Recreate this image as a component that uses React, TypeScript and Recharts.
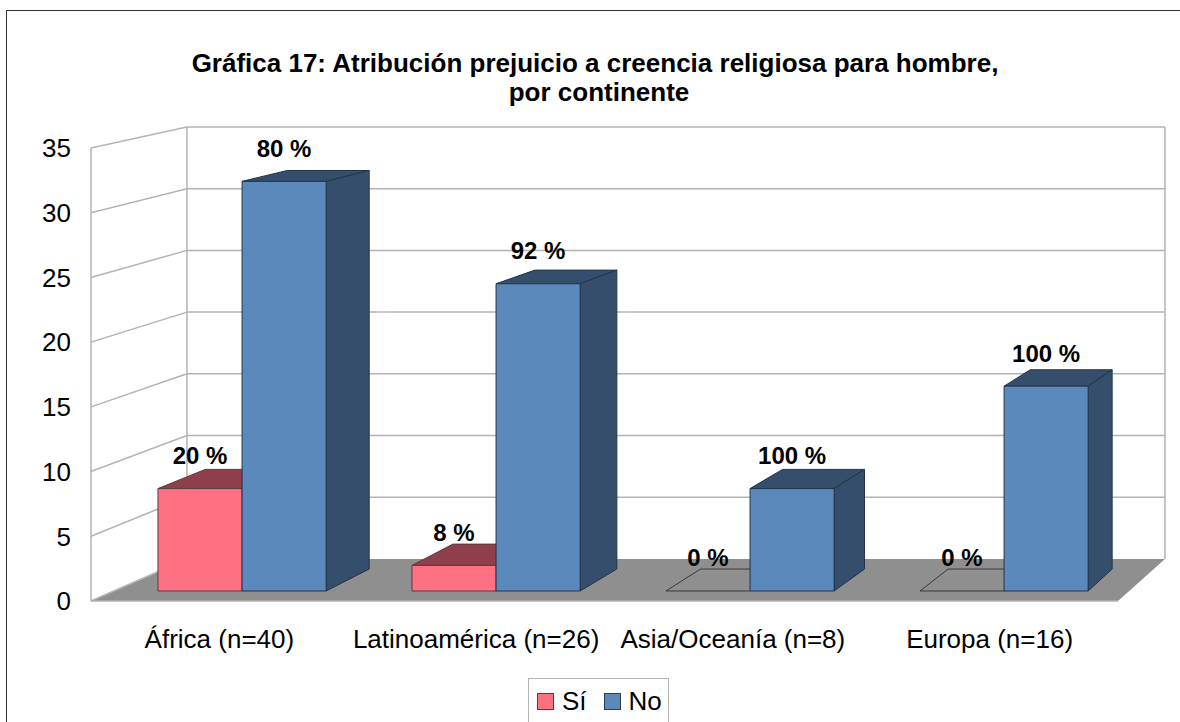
import { BarChart, Bar, XAxis, YAxis, CartesianGrid, Legend, LabelList } from 'recharts';

const categories = ['África (n=40)', 'Latinoamérica (n=26)', 'Asia/Oceanía (n=8)', 'Europa (n=16)'];
const siValues = [8, 2, 0, 0];
const noValues = [32, 24, 8, 16];
const siLabels = ['20 %', '8 %', '0 %', '0 %'];
const noLabels = ['80 %', '92 %', '100 %', '100 %'];
const yTicks = [0, 5, 10, 15, 20, 25, 30, 35];

const chartData = categories.map((name, i) => ({
    name,
    si: siValues[i],
    no: noValues[i],
    siLabel: siLabels[i],
    noLabel: noLabels[i],
}));

const FONT = '"Liberation Sans", Arial, sans-serif';
const WALL = '#b3b3b3';
const FLOOR = '#8f8f8f';

// the 3D look: the axis scale is the front edge of the box, the bars stand a bit further in
const toBarPlane = (x: number, y: number) => [0.9893 * x + 25.4, 0.989 * y - 3.4];
const toBarBack = (x: number, y: number) => [0.975 * x + 51.2, 0.973 * y - 6];
const toWall = (x: number, y: number) => [0.9523 * x + 100.3, 0.9537 * y - 14.2];

const pts = (list: number[][]) => list.map((p) => p.join(',')).join(' ');

function WallLine(props: any) {
    const { x1, x2, y1 } = props;
    const front = [x1, y1];
    const backLeft = toWall(x1, y1);
    const backRight = toWall(x2, y1);
    const isFloor = Math.abs(y1 - 601) < 1;
    return (
        <g key={props.key ?? y1}>
            {isFloor && (
                <polygon
                    points={pts([front, [x2, y1], backRight, backLeft])}
                    fill={FLOOR}
                />
            )}
            {isFloor && <line x1={x1} x2={x2} y1={y1} y2={y1} stroke={WALL} strokeWidth={1.5} />}
            {isFloor && <line x1={x1} x2={x1} y1={y1} y2={148} stroke={WALL} strokeWidth={1.5} />}
            {isFloor && <line x1={backLeft[0]} x2={backLeft[0]} y1={backLeft[1]} y2={127} stroke={WALL} strokeWidth={1.5} />}
            {isFloor && <line x1={backRight[0]} x2={backRight[0]} y1={backRight[1]} y2={127} stroke={WALL} strokeWidth={1.5} />}
            <line x1={x1} y1={y1} x2={backLeft[0]} y2={backLeft[1]} stroke={WALL} strokeWidth={1.5} />
            {!isFloor && <line x1={backLeft[0]} y1={backLeft[1]} x2={backRight[0]} y2={backRight[1]} stroke={WALL} strokeWidth={1.5} />}
        </g>
    );
}

function Box3D(props: any) {
    const { x, y, width, height, fill, dark, edge } = props;
    const fl = toBarPlane(x, y + height);
    const fr = toBarPlane(x + width, y + height);
    const tl = toBarPlane(x, y);
    const tr = toBarPlane(x + width, y);
    const bfr = toBarBack(fr[0], fr[1]);
    const btl = toBarBack(tl[0], tl[1]);
    const btr = toBarBack(tr[0], tr[1]);
    if (height < 0.5) {
        // a zero value only leaves its outline on the floor
        return <polygon points={pts([fl, fr, btr, btl])} fill="none" stroke="#3a3a3a" strokeWidth={1} />;
    }
    return (
        <g stroke={edge} strokeWidth={1} strokeLinejoin="round">
            <polygon points={pts([tl, tr, btr, btl])} fill={dark} />
            <polygon points={pts([fr, bfr, btr, tr])} fill={dark} />
            <polygon points={pts([tl, tr, fr, fl])} fill={fill} />
        </g>
    );
}

function BarLabel(props: any) {
    const { x, y, width, value } = props;
    const p = toBarPlane(x + width / 2, y);
    return (
        <text
            x={p[0]}
            y={p[1] - 33}
            textAnchor="middle"
            dominantBaseline="central"
            fontFamily={FONT}
            fontWeight="bold"
            fontSize={24}
            fill="#000"
        >
            {value}
        </text>
    );
}

function LegendBox(props: any) {
    return (
        <div
            style={{
                boxSizing: 'border-box',
                width: 141,
                height: 60,
                background: '#fff',
                border: '1.5px solid ' + WALL,
                display: 'flex',
                paddingLeft: 8,
                paddingTop: 14,
                fontFamily: FONT,
                fontSize: 26,
                color: '#000',
            }}
        >
            {props.payload.map((item: any, i: number) => (
                <div key={item.value} style={{ display: 'flex', alignItems: 'flex-start', marginRight: i === 0 ? 17 : 0 }}>
                    <span
                        style={{
                            boxSizing: 'border-box',
                            display: 'inline-block',
                            width: 17,
                            height: 17,
                            background: item.color,
                            border: '1px solid ' + (i === 0 ? '#5c3a40' : '#2a3d52'),
                            marginRight: 8,
                        }}
                    />
                    <span style={{ lineHeight: '17px' }}>{item.value}</span>
                </div>
            ))}
        </div>
    );
}

const titleStyle: any = {
    position: 'absolute',
    left: 0,
    width: 1190,
    textAlign: 'center',
    fontFamily: FONT,
    fontWeight: 'bold',
    fontSize: 26,
    lineHeight: '29px',
    color: '#000',
};

export default function App() {
    return (
        <div style={{ position: 'absolute', left: 0, top: 0, width: 1180, height: 722, overflow: 'hidden', background: '#fff' }}>
            <div style={{ position: 'absolute', left: 6, top: 10, width: 1180, height: 720, borderLeft: '1.5px solid #333', borderTop: '1.5px solid #333' }} />
            <div style={{ ...titleStyle, top: 49 }}>
                Gráfica 17: Atribución prejuicio a creencia religiosa para hombre,
                <br />
                <span style={{ position: 'relative', left: 4 }}>por continente</span>
            </div>
            <BarChart
                width={1180}
                height={722}
                data={chartData}
                barSize={85}
                barGap={0}
                margin={{ top: 148, right: 62, bottom: 61, left: 0 }}
                style={{ position: 'absolute', left: 0, top: 0 }}
            >
                <CartesianGrid vertical={false} horizontal={(p: any) => <WallLine {...p} />} />
                <XAxis
                    dataKey="name"
                    height={60}
                    interval={0}
                    axisLine={false}
                    tickLine={false}
                    tickMargin={23}
                    tick={{ fill: '#000', fontSize: 26, fontFamily: FONT }}
                />
                <YAxis
                    width={91}
                    domain={[0, 35]}
                    ticks={yTicks}
                    interval={0}
                    axisLine={false}
                    tickLine={false}
                    tickMargin={14}
                    tick={{ fill: '#000', fontSize: 26, fontFamily: FONT }}
                />
                <Legend
                    layout="horizontal"
                    verticalAlign="middle"
                    align="center"
                    itemSorter={null}
                    wrapperStyle={{ left: 528, top: 678, width: 141, height: 60 }}
                    content={<LegendBox />}
                />
                <Bar
                    dataKey="si"
                    name="Sí"
                    fill="#ff7083"
                    isAnimationActive={false}
                    shape={(p: any) => <Box3D {...p} fill="#ff7083" dark="#8f3f4a" edge="#5c3a40" />}
                >
                    <LabelList dataKey="siLabel" content={<BarLabel />} />
                </Bar>
                <Bar
                    dataKey="no"
                    name="No"
                    fill="#5c89bc"
                    isAnimationActive={false}
                    shape={(p: any) => <Box3D {...p} fill="#5c89bc" dark="#344e6c" edge="#22344a" />}
                >
                    <LabelList dataKey="noLabel" content={<BarLabel />} />
                </Bar>
            </BarChart>
        </div>
    );
}
